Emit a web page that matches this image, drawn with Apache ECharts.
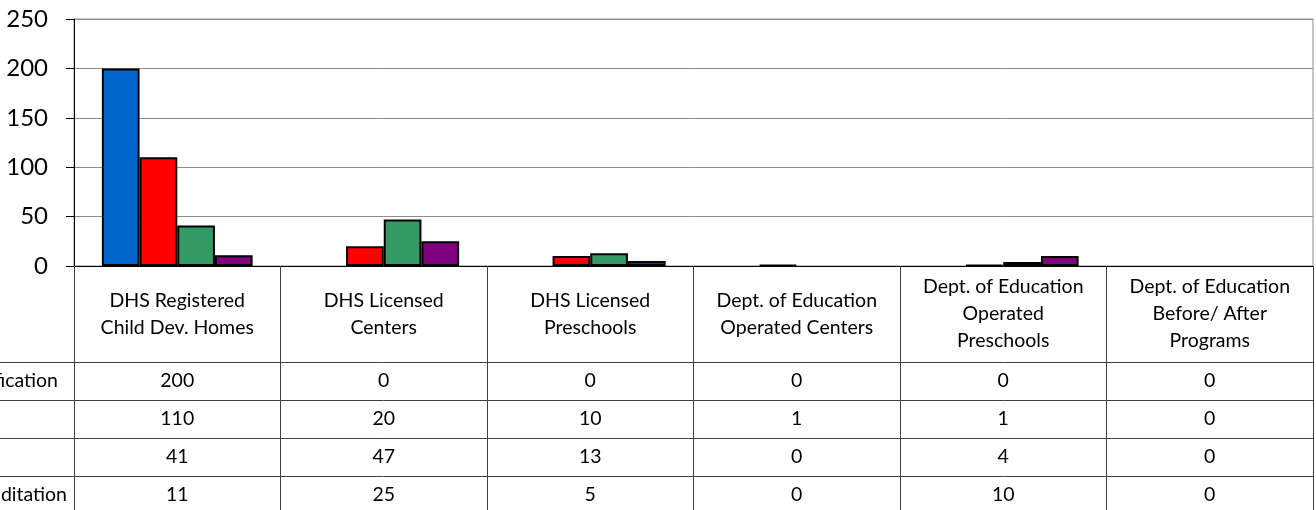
<!DOCTYPE html>
<html>
<head>
<meta charset="utf-8">
<script src="https://cdn.jsdelivr.net/npm/echarts@6/dist/echarts.min.js"></script>
<style>
html, body { margin: 0; padding: 0; background: #fff; }
#chart { width: 1316px; height: 510px; }
</style>
</head>
<body>
<div id="chart"></div>
<script>
// categories (table header)
const categories = [
    'DHS Registered\nChild Dev. Homes',
    'DHS Licensed\nCenters',
    'DHS Licensed\nPreschools',
    'Dept. of Education\nOperated Centers',
    'Dept. of Education\nOperated\nPreschools',
    'Dept. of Education\nBefore/ After\nPrograms'
];

// series (rows of the data table), labels are cut off at the left edge
const rowNames = ['Certification', '', '', 'Accreditation'];
const row1 = [200, 0, 0, 0, 0, 0];
const row2 = [110, 20, 10, 1, 1, 0];
const row3 = [41, 47, 13, 0, 4, 0];
const row4 = [11, 25, 5, 0, 10, 0];
const rows = [row1, row2, row3, row4];
const colors = ['#0066CC', '#FF0000', '#339966', '#800080'];

const yTicks = { min: 0, max: 250, interval: 50 };

const FONT = 'Lato';
const TEXT_SIZE = 19.5;
const GRID_TOP = 19, GRID_BOTTOM = 244, GRID_LEFT = 74, GRID_RIGHT = 3;
const HEADER_H = 96, ROW_H = 38;

const myChart = echarts.init(document.getElementById('chart'), null, { renderer: 'canvas' });

// extra x axes used as the rows of the data table
const tableAxes = rows.map(function (row, i) {
    return {
        type: 'category',
        data: categories,
        position: 'bottom',
        offset: HEADER_H + ROW_H * i,
        axisLine: { show: true, lineStyle: { color: '#404040', width: 1 } },
        axisTick: { show: false },
        splitLine: { show: false },
        axisLabel: {
            interval: 0,
            margin: ROW_H / 2,
            verticalAlign: 'middle',
            fontFamily: FONT,
            fontSize: TEXT_SIZE,
            color: '#000',
            formatter: function (v, idx) { return String(row[idx]); }
        }
    };
});

// left part of the table: row lines and (cut) row names
const leftGraphics = [];
rows.forEach(function (row, i) {
    const y = 510 - GRID_BOTTOM + HEADER_H + ROW_H * i;
    leftGraphics.push({
        type: 'line',
        shape: { x1: 0, y1: y + 0.5, x2: GRID_LEFT, y2: y + 0.5 },
        style: { stroke: '#404040', lineWidth: 1 }
    });
});
[[0, 58], [3, 67]].forEach(function (p) {
    leftGraphics.push({
        type: 'text',
        x: p[1],
        y: 510 - GRID_BOTTOM + HEADER_H + ROW_H * p[0] + ROW_H / 2,
        style: {
            text: rowNames[p[0]],
            align: 'right',
            verticalAlign: 'middle',
            font: TEXT_SIZE + 'px ' + FONT,
            fill: '#000'
        }
    });
});

const option = {
    animation: false,
    color: colors,
    grid: {
        left: GRID_LEFT, right: GRID_RIGHT, top: GRID_TOP, bottom: GRID_BOTTOM,
        show: true, borderColor: '#8c8c8c', borderWidth: 1
    },
    xAxis: [{
        type: 'category',
        data: categories,
        axisLine: { show: true, lineStyle: { color: '#000', width: 1 } },
        axisTick: {
            show: true, interval: 0, length: GRID_BOTTOM,
            lineStyle: { color: '#404040', width: 1 }
        },
        axisLabel: {
            interval: 0,
            margin: HEADER_H / 2,
            verticalAlign: 'middle',
            fontFamily: FONT,
            fontSize: TEXT_SIZE,
            lineHeight: 27,
            color: '#000'
        }
    }].concat(tableAxes),
    yAxis: {
        type: 'value',
        min: yTicks.min,
        max: yTicks.max,
        interval: yTicks.interval,
        axisLine: { show: true, lineStyle: { color: '#000', width: 1 } },
        axisTick: { show: true, length: 8, lineStyle: { color: '#000' } },
        splitLine: { show: true, lineStyle: { color: '#8c8c8c', width: 1 } },
        axisLabel: { margin: 26, fontFamily: FONT, fontSize: 24, color: '#000' }
    },
    series: rows.map(function (row, i) {
        return {
            name: rowNames[i] || ('Series ' + (i + 1)),
            type: 'bar',
            xAxisIndex: 0,
            // zero values get no outline, like the original
            data: row.map(function (v) {
                return v === 0 ? { value: v, itemStyle: { borderWidth: 0 } } : v;
            }),
            barGap: '0%',
            barCategoryGap: '27%',
            itemStyle: { color: colors[i], borderColor: '#000', borderWidth: 2 }
        };
    }),
    graphic: leftGraphics
};

myChart.setOption(option);
</script>
</body>
</html>
